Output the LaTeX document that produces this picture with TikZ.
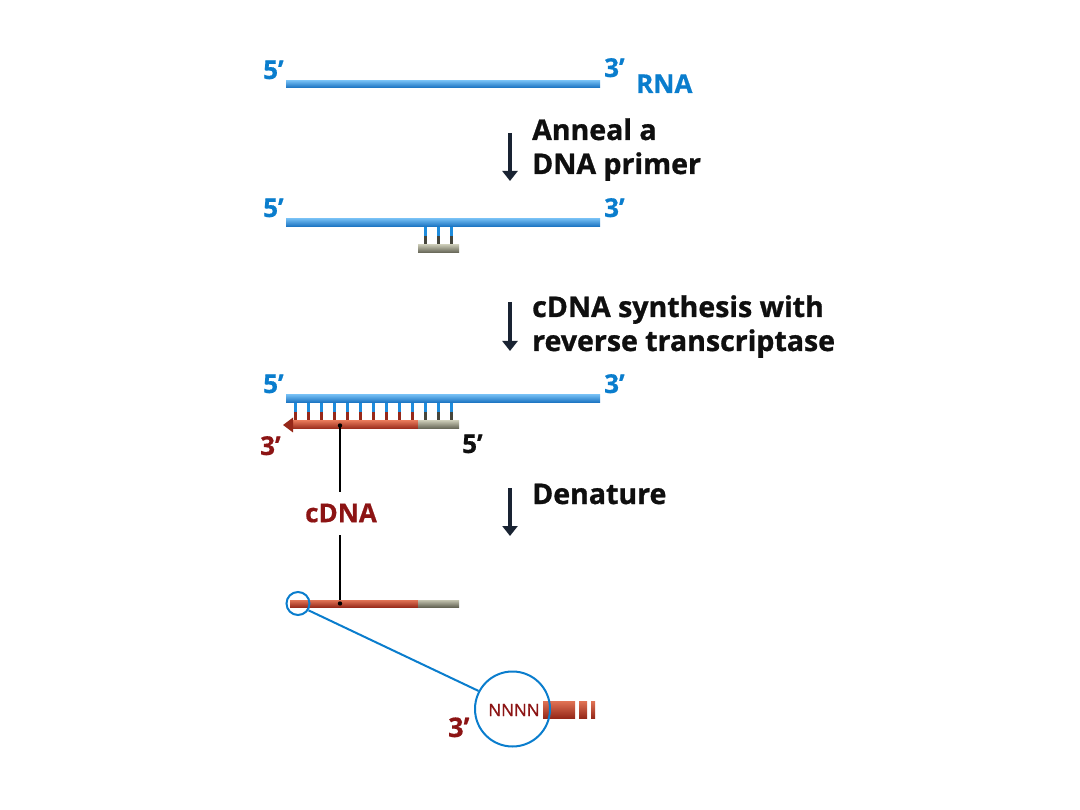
\documentclass[tikz,border=0pt]{standalone}
\usepackage{fontspec}
\setmainfont{Open Sans}
\usetikzlibrary{arrows.meta}
\definecolor{rnablue}{RGB}{30,140,220}
\definecolor{rnalight}{RGB}{110,185,240}
\definecolor{rnadark}{RGB}{20,110,190}
\definecolor{txtblue}{RGB}{10,125,205}
\definecolor{cred}{RGB}{195,65,40}
\definecolor{credlight}{RGB}{225,115,85}
\definecolor{creddark}{RGB}{150,40,25}
\definecolor{txtred}{RGB}{140,20,20}
\definecolor{pgray}{RGB}{145,145,125}
\definecolor{pgraylight}{RGB}{195,195,175}
\definecolor{pgraydark}{RGB}{95,95,80}
\definecolor{tickgray}{RGB}{70,70,60}
\definecolor{navy}{RGB}{25,35,50}
\definecolor{txtblack}{RGB}{15,15,15}
\begin{document}
\begin{tikzpicture}[x=1pt,y=-1pt,
  rna/.style={top color=rnalight, bottom color=rnadark},
  red/.style={top color=credlight, bottom color=creddark},
  gray/.style={top color=pgraylight, bottom color=pgraydark},
  endlab/.style={inner sep=0pt, anchor=base west, font=\bfseries\fontsize{26}{30}\selectfont\addfontfeature{FakeBold=0.6}},
  steptext/.style={inner sep=0pt, anchor=base west, align=left, text=txtblack, font=\bfseries\fontsize{28.5}{34}\selectfont\addfontfeature{FakeBold=1}},
  steparrow/.style={draw=navy, line width=4.5pt, -{Triangle[width=15pt,length=10pt]}},
  tickup/.style={draw=rnablue, line width=3pt},
  tickred/.style={draw=creddark, line width=3pt},
  tickgr/.style={draw=tickgray, line width=3pt},
  pointer/.style={draw=black, line width=2pt},
  lens/.style={draw=txtblue, line width=2pt, circle, inner sep=0pt}
]
\useasboundingbox (0,0) rectangle (1080,810);

% ---------- stage 1: RNA ----------
\shade[rna] (286,81) rectangle (600,88);
\node[endlab, text=txtblue] (s1five) at (263,79) {5’};
\node[endlab, text=txtblue] (s1three) at (604,77) {3’};
\node[endlab, text=txtblue, font=\bfseries\fontsize{26}{30}\selectfont\addfontfeature{FakeBold=0.6}] (rnalab) at (636,93) {RNA};

% step 1
\coordinate (a1s) at (510,133);
\coordinate (a1e) at (510,181);
\draw[steparrow] (a1s) -- (a1e);
\node[steptext] (step1) at (532,174) {Anneal a\\DNA primer};

% ---------- stage 2: RNA + primer ----------
\foreach \x in {425,438,451} {
  \draw[tickup] (\x,226) -- (\x,236);
  \draw[tickgr] (\x,236) -- (\x,246);
}
\shade[rna] (286,219) rectangle (600,227);
\shade[gray] (418,245) rectangle (459,253);
\node[endlab, text=txtblue] (s2five) at (263,217) {5’};
\node[endlab, text=txtblue] (s2three) at (604,217) {3’};

% step 2
\coordinate (a2s) at (510,302);
\coordinate (a2e) at (510,351);
\draw[steparrow] (a2s) -- (a2e);
\node[steptext] (step2) at (532,351) {cDNA synthesis with\\reverse transcriptase};

% ---------- stage 3: hybrid ----------
\foreach \i in {0,...,12} {
  \pgfmathsetmacro\xx{295+13*\i}
  \draw[tickup] (\xx,402) -- (\xx,412);
  \ifnum\i<10
    \draw[tickred] (\xx,412) -- (\xx,422);
  \else
    \draw[tickgr] (\xx,412) -- (\xx,422);
  \fi
}
\shade[rna] (286,395) rectangle (600,403);
\shade[red] (292,421) rectangle (418,429);
\shade[gray] (418,421) rectangle (459,429);
\fill[creddark] (293,417.5) -- (283,425) -- (293,432.5) -- cycle;
\node[endlab, text=txtblue] (s3five) at (263,393) {5’};
\node[endlab, text=txtblue] (s3three) at (604,393) {3’};
\node[endlab, text=txtred] (s3three2) at (260,455) {3’};
\node[endlab, text=txtblack] (s3five2) at (462,453) {5’};

% cDNA pointer
\coordinate (p1) at (340,425.5);
\coordinate (p2) at (340,603.5);
\node[inner sep=0pt, text=txtred, font=\bfseries\fontsize{26}{30}\selectfont\addfontfeature{FakeBold=0.6}] (cdnalab) at (341,513) {cDNA};
\draw[pointer] (p1) -- (340,492);
\draw[pointer] (340,535) -- (p2);

% step 3
\coordinate (a3s) at (510,488);
\coordinate (a3e) at (510,536);
\draw[steparrow] (a3s) -- (a3e);
\node[steptext] (step3) at (532,504) {Denature};

% ---------- stage 4: single-stranded cDNA ----------
\shade[red] (290,600) rectangle (418,607.5);
\shade[gray] (418,600) rectangle (459,607.5);
\fill[black] (p1) circle (2.2pt);
\fill[black] (p2) circle (2.2pt);
\node[lens, minimum size=23pt] (small) at (298,603.5) {};

% magnified end
\shade[red] (543,701) rectangle (575,718);
\shade[red] (579,701) rectangle (587,718);
\shade[red] (591,701) rectangle (595,718);
\node[lens, minimum size=75pt] (big) at (512.5,709) {};
\draw[draw=txtblue, line width=2pt] (small.-33) -- (big.152);
\node[inner sep=0pt, text=txtred, font=\fontsize{17}{20}\selectfont\addfontfeature{FakeBold=1}] (nnnn) at (514,710) {NNNN};
\node[endlab, text=txtred, font=\bfseries\fontsize{27}{32}\selectfont\addfontfeature{FakeBold=0.6}] (s4three) at (448,737) {3’};
\end{tikzpicture}
\end{document}
